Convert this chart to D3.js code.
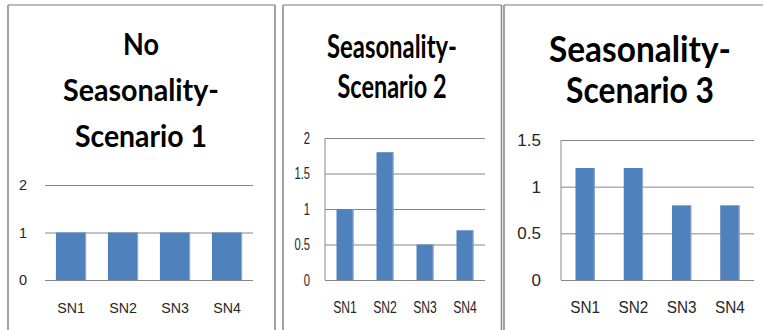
<!DOCTYPE html>
<html>
<head>
<meta charset="utf-8">
<script src="https://cdn.jsdelivr.net/npm/d3@7"></script>
<style>
  html, body { margin: 0; padding: 0; background: #fff; }
  svg { display: block; }
</style>
</head>
<body>
<svg id="chart" width="765" height="330"></svg>
<script>
// Shared categories for the three small bar charts
const categories = ["SN1", "SN2", "SN3", "SN4"];

// Series values
const scenario1Values = [1, 1, 1, 1];
const scenario2Values = [1.0, 1.8, 0.5, 0.7];
const scenario3Values = [1.2, 1.2, 0.8, 0.8];

// Value-axis ticks
const scenario1Ticks = [0, 1, 2];
const scenario2Ticks = [0, 0.5, 1, 1.5, 2];
const scenario3Ticks = [0, 0.5, 1, 1.5];

// Title lines
const scenario1Title = ["No", "Seasonality-", "Scenario 1"];
const scenario2Title = ["Seasonality-", "Scenario 2"];
const scenario3Title = ["Seasonality-", "Scenario 3"];

// Layout of each panel: frame, plot area, title placement and type sizes
const panels = [
  {
    values: scenario1Values, ticks: scenario1Ticks, title: scenario1Title,
    frame: { x0: 8, x1: 275, top: 275, y0: 5 },
    plot: { x0: 45, x1: 253, yTop: 185, yBottom: 280 },
    domainMax: 2, barPadding: 0.42, yAxisLine: false,
    tickRight: 27, tickSize: 14.5, tickScale: 1.0,
    catSize: 15, catScale: 0.95,
    titleCenter: 141, titleSize: 31,
    titleBaselines: [55, 101, 147], titleWidths: [36, 156, 132]
  },
  {
    values: scenario2Values, ticks: scenario2Ticks, title: scenario2Title,
    frame: { x0: 283, x1: 501.5, top: 501.5, y0: 5 },
    plot: { x0: 325, x1: 485, yTop: 138, yBottom: 280 },
    domainMax: 2, barPadding: 0.575, yAxisLine: true,
    tickRight: 310, tickSize: 16.5, tickScale: 0.68,
    catSize: 16, catScale: 0.76,
    titleCenter: 392, titleSize: 32,
    titleBaselines: [58, 98], titleWidths: [130, 109]
  },
  {
    values: scenario3Values, ticks: scenario3Ticks, title: scenario3Title,
    frame: { x0: 504, x1: 770, top: 763, y0: 5 },
    plot: { x0: 561, x1: 754, yTop: 140, yBottom: 280 },
    domainMax: 1.5, barPadding: 0.6, yAxisLine: true,
    tickRight: 541, tickSize: 17, tickScale: 1.0,
    catSize: 17, catScale: 0.9,
    titleCenter: 640, titleSize: 36,
    titleBaselines: [62, 103], titleWidths: [182, 148]
  }
];

const svg = d3.select("#chart");
const BAR = "#4F81BD";
const GRID = "#868686";
const TEXT_FONT = "'Liberation Sans', Arial, sans-serif";
const TITLE_FONT = "Lato, 'Open Sans', sans-serif";

svg.append("rect").attr("width", 765).attr("height", 330).attr("fill", "#fff");

panels.forEach(p => {
  const g = svg.append("g");

  // Frame: left and right edges darker, top edge lighter
  g.append("line")
    .attr("x1", p.frame.x0).attr("x2", p.frame.top)
    .attr("y1", p.frame.y0).attr("y2", p.frame.y0)
    .attr("stroke", "#a6a6a6").attr("stroke-width", 1.5);
  [p.frame.x0, p.frame.x1].forEach(x => {
    g.append("line")
      .attr("x1", x).attr("x2", x)
      .attr("y1", p.frame.y0).attr("y2", 331)
      .attr("stroke", "#8c8c8c").attr("stroke-width", 1.6);
  });

  // Scales
  const x = d3.scaleBand()
    .domain(categories)
    .range([p.plot.x0, p.plot.x1])
    .paddingInner(p.barPadding)
    .paddingOuter(p.barPadding / 2);
  const y = d3.scaleLinear()
    .domain([0, p.domainMax])
    .range([p.plot.yBottom, p.plot.yTop]);

  // Horizontal gridlines (the zero line doubles as the category axis)
  g.append("g")
    .attr("transform", `translate(${p.plot.x0},0)`)
    .call(d3.axisRight(y).tickValues(p.ticks).tickSize(p.plot.x1 - p.plot.x0).tickFormat(""))
    .call(a => a.select(".domain").remove())
    .call(a => a.selectAll(".tick line").attr("stroke", GRID).attr("stroke-width", 1));

  // Vertical value axis line
  if (p.yAxisLine) {
    g.append("line")
      .attr("x1", p.plot.x0).attr("x2", p.plot.x0)
      .attr("y1", y(p.domainMax)).attr("y2", y(0))
      .attr("stroke", GRID).attr("stroke-width", 1);
  }

  // Value-axis tick labels (narrow lettering, right-aligned)
  const yAxis = g.append("g")
    .attr("transform", `translate(${p.tickRight},0)`)
    .call(d3.axisLeft(y).tickValues(p.ticks).tickSize(0).tickPadding(0).tickFormat(d3.format("")));
  yAxis.select(".domain").remove();
  yAxis.selectAll(".tick text")
    .attr("font-family", TEXT_FONT)
    .attr("font-size", p.tickSize)
    .attr("transform", `scale(${p.tickScale},1)`)
    .attr("fill", "#262626");

  // Bars
  g.selectAll("rect.bar")
    .data(p.values)
    .join("rect")
    .attr("class", "bar")
    .attr("x", (d, i) => x(categories[i]))
    .attr("width", x.bandwidth())
    .attr("y", d => y(d))
    .attr("height", d => y(0) - y(d))
    .attr("fill", BAR);
  // Light right-hand edge on each bar
  g.selectAll("line.edge")
    .data(p.values)
    .join("line")
    .attr("class", "edge")
    .attr("x1", (d, i) => x(categories[i]) + x.bandwidth() - 0.5)
    .attr("x2", (d, i) => x(categories[i]) + x.bandwidth() - 0.5)
    .attr("y1", d => y(d))
    .attr("y2", y(0))
    .attr("stroke", "#8eaad6").attr("stroke-width", 1);

  // Category labels
  const xAxis = g.append("g")
    .attr("transform", `translate(0,${y(0)})`)
    .call(d3.axisBottom(x).tickSize(0).tickPadding(0));
  xAxis.select(".domain").remove();
  xAxis.selectAll(".tick text")
    .attr("dy", null)
    .attr("y", 313 - y(0))
    .attr("font-family", TEXT_FONT)
    .attr("font-size", p.catSize)
    .attr("transform", `scale(${p.catScale},1)`)
    .attr("fill", "#262626");

  // Title
  g.selectAll("text.title")
    .data(p.title)
    .join("text")
    .attr("class", "title")
    .attr("x", p.titleCenter)
    .attr("y", (d, i) => p.titleBaselines[i])
    .attr("text-anchor", "middle")
    .attr("font-family", TITLE_FONT)
    .attr("font-weight", "bold")
    .attr("font-size", p.titleSize)
    .attr("textLength", (d, i) => p.titleWidths[i])
    .attr("lengthAdjust", "spacingAndGlyphs")
    .attr("fill", "#000")
    .text(d => d);
});
</script>
</body>
</html>
